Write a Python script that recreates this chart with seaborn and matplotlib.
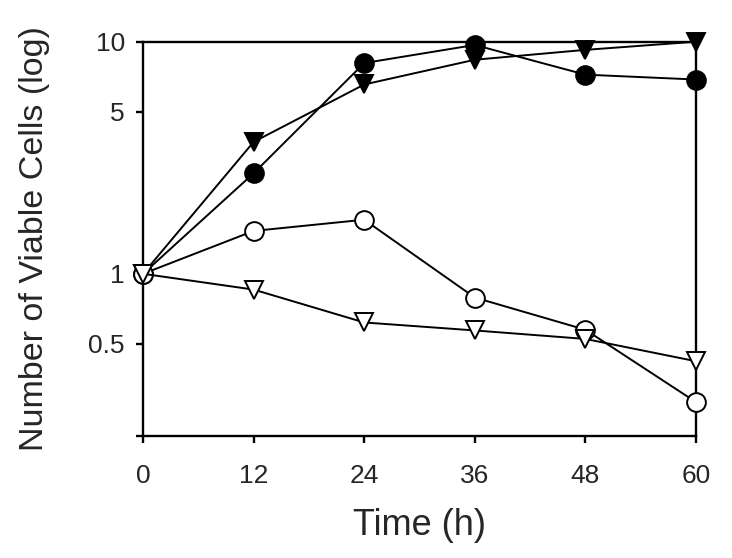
import numpy as np
import pandas as pd
import matplotlib
matplotlib.use('Agg')
import matplotlib.pyplot as plt
import seaborn as sns

sns.set_style('white')
plt.rcParams['font.family'] = ['Liberation Sans', 'DejaVu Sans']

time_h = [0, 12, 24, 36, 48, 60]
filled_circle = [1.0, 2.71, 8.09, 9.68, 7.21, 6.87]
filled_triangle = [1.0, 3.70, 6.54, 8.36, 9.22, 10.0]
open_circle = [1.0, 1.53, 1.71, 0.79, 0.574, 0.28]
open_triangle = [1.0, 0.855, 0.617, 0.57, 0.524, 0.42]

yticks = [0.5, 1, 5, 10]
ytick_labels = ['0.5', '1', '5', '10']

fig = plt.figure(figsize=(7.32, 5.58), dpi=100)
ax = fig.add_axes([0.1954, 0.2186, 0.7554, 0.7067])

series = [
    (filled_circle, 'o', 'black'),
    (filled_triangle, 'v', 'black'),
    (open_circle, 'o', 'white'),
    (open_triangle, 'v', 'white'),
]
for vals, mk, face in series:
    sns.lineplot(x=time_h, y=vals, ax=ax, color='black', linewidth=1.4,
                 marker=mk, markersize=13.5, markerfacecolor=face,
                 markeredgecolor='black', markeredgewidth=1.4,
                 clip_on=False, zorder=3)

ax.set_yscale('log')
ax.set_xlim(0, 60)
ax.set_ylim(0.2, 10)
ax.set_xticks(time_h)
ax.set_yticks(yticks + [0.2])
ax.set_yticklabels(ytick_labels + [''])
ax.yaxis.set_minor_locator(matplotlib.ticker.NullLocator())

for s in ax.spines.values():
    s.set_color('black')
    s.set_linewidth(1.7)

ax.tick_params(axis='both', which='major', direction='out', length=5,
               width=1.7, color='black', labelsize=19,
               bottom=True, left=True, top=False, right=False)
ax.tick_params(axis='x', pad=15)
ax.tick_params(axis='y', pad=8)

ax.set_xlabel('Time (h)', fontsize=26)
ax.set_ylabel('Number of Viable Cells (log)', fontsize=24.5)
ax.xaxis.set_label_coords(0.5, -0.183)
ax.yaxis.set_label_coords(-0.168, 0.5)

fig.savefig('out.png', dpi=100)
